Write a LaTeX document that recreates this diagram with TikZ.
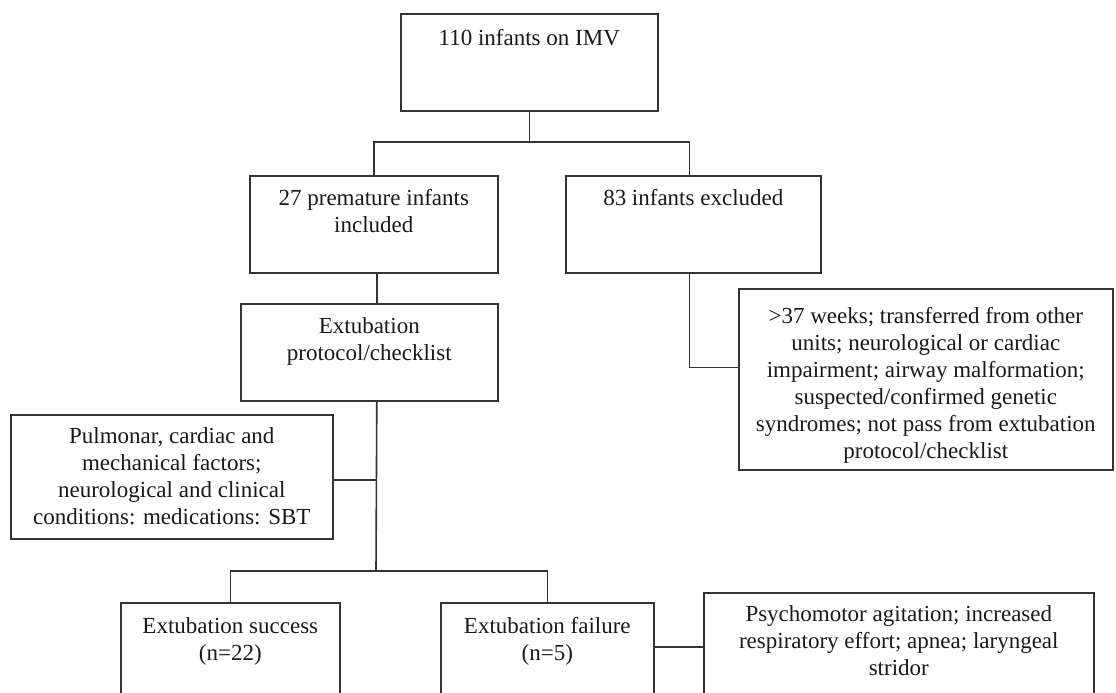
\documentclass[tikz,border=0pt]{standalone}
\usepackage{fontspec}
\setmainfont{Liberation Serif}
\newcommand{\bx}[4]{\parbox[c][#2][t]{#1}{\centering\rule{0pt}{#3}#4\par}}
\tikzset{
  box/.style={draw=black!80, line width=1.6pt, inner sep=0pt, anchor=north west, text=black!90},
  link/.style={draw=black!80, line width=1.6pt},
}
\begin{document}
\begin{tikzpicture}[x=1pt, y=-1pt, font=\fontsize{23}{27}\selectfont]
\useasboundingbox (0,0) rectangle (1116,693);
\node[box] (top) at (400,13) {\bx{257pt}{97pt}{32pt}{110 infants on IMV}};
\node[box] (incl) at (249,175) {\bx{248pt}{97pt}{30pt}{27 premature infants\\ included}};
\node[box] (excl) at (565,175) {\bx{255pt}{97pt}{30pt}{83 infants excluded}};
\node[box] (proto) at (240,303) {\bx{257pt}{97pt}{30pt}{Extubation\\ protocol/checklist}};
\node[box] (reasons) at (738,288) {\bx{374pt}{181pt}{35pt}{>37 weeks; transferred from other\\ units; neurological or cardiac\\ impairment; airway malformation;\\ suspected/confirmed genetic\\ syndromes; not pass from extubation\\ protocol/checklist}};
\node[box] (factors) at (10,414) {\bx{322pt}{124pt}{29pt}{Pulmonar, cardiac and\\ mechanical factors;\\ neurological and clinical\\ conditions: medications: SBT}};
\node[box] (success) at (120,602) {\bx{219pt}{100pt}{31pt}{Extubation success\\ (n=22)}};
\node[box] (failure) at (440,602) {\bx{213pt}{100pt}{31pt}{Extubation failure\\ (n=5)}};
\node[box] (psych) at (703,592) {\bx{390pt}{110pt}{29pt}{Psychomotor agitation; increased\\ respiratory effort; apnea; laryngeal\\ stridor}};
% connectors
\coordinate (split1) at (528,142);
\coordinate (split2) at (376,571);
\draw[link] (top.south) -- (top.south |- split1);
\draw[link] (incl.north) |- (split1) -| ([xshift=-4pt]excl.north);
\draw[link] ([xshift=3pt]incl.south) -- ([xshift=3pt]incl.south |- proto.north);
\draw[link] ([xshift=-4pt]excl.south) |- ([yshift=12pt]reasons.west);
\draw[link] ([xshift=7.5pt]proto.south) -- (split2);
\draw[link] ([yshift=-3pt]factors.east) -- ([yshift=-3pt]factors.east -| split2);
\draw[link] (success.north) |- (split2) -| (failure.north);
\draw[link] ([yshift=6pt]failure.east) -- ([yshift=6pt]failure.east -| psych.west);
\end{tikzpicture}
\end{document}
